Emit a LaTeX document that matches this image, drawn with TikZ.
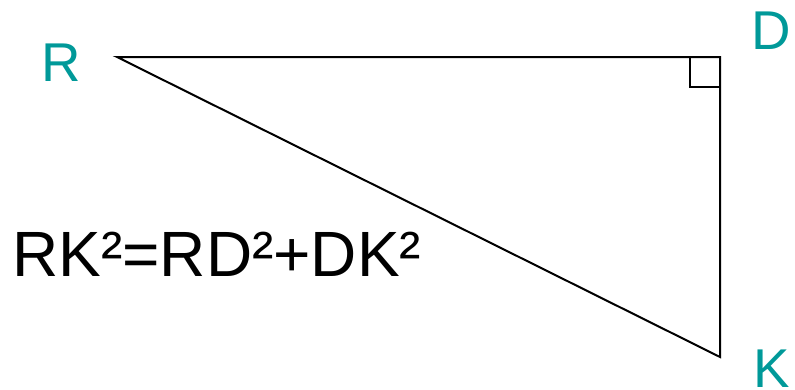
\documentclass[tikz,border=0pt]{standalone}
\usepackage{fontspec}
\setmainfont{Liberation Sans}
\definecolor{labteal}{RGB}{0,153,153}
\begin{document}
\begin{tikzpicture}[x=0.75pt,y=-0.75pt,
  side/.style={draw=black,line width=1.5pt,line join=miter},
  vlabel/.style={inner sep=0pt,anchor=base west,text=labteal,font=\fontsize{41pt}{41pt}\selectfont},
  formula/.style={inner sep=0pt,anchor=base west,text=black,font=\fontsize{48pt}{48pt}\selectfont}]
\useasboundingbox (0,0) rectangle (795,389);
\coordinate (R) at (117,57);
\coordinate (D) at (720,57);
\coordinate (K) at (720,357);
\coordinate (q1) at (690,57);
\coordinate (q2) at (690,87);
\coordinate (q3) at (720,87);
\draw[side] (R) -- (D) -- (K) -- cycle;
\draw[side,line width=1.3pt] (q1) -- (q2) -- (q3);
\node[vlabel] (lR) at (41,81) {R};
\node[vlabel] (lD) at (751,49) {D};
\node[vlabel] (lK) at (753,387) {K};
\node[formula] (eq) at (12,276) {RK²=RD²+DK²};
\end{tikzpicture}
\end{document}
